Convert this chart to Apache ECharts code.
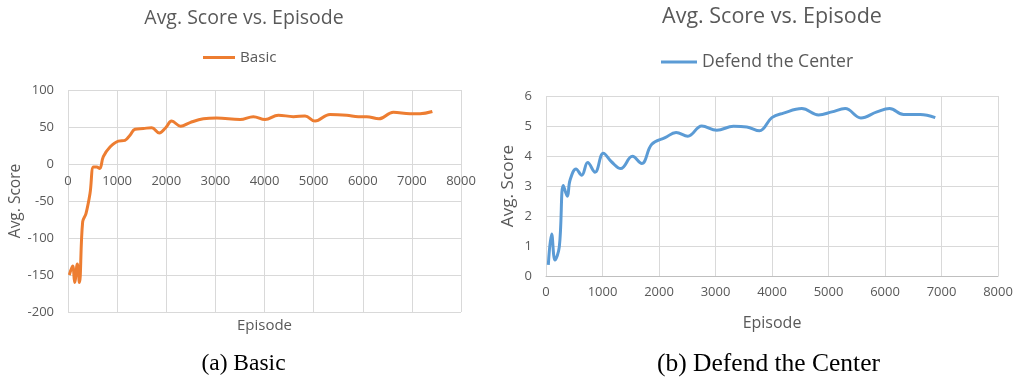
<!DOCTYPE html>
<html><head><meta charset="utf-8">
<script src="https://cdn.jsdelivr.net/npm/echarts@6/dist/echarts.min.js"></script>
<style>html,body{margin:0;padding:0;background:#fff}#c{width:1016px;height:377px}</style>
</head><body><div id="c"></div>
<script>
const basicEpisodes = [27,95,136,190,231,299,366,448,520,584,645,719,855,1025,1160,1262,1364,1534,1703,1859,1988,2110,2294,2484,2755,3026,3502,3773,4011,4282,4587,4825,5028,5334,5673,5911,6080,6331,6623,6962,7166,7417];
const basicScores = [-150,-138,-160,-135,-160,-78,-67,-40,-4,-4,-6,10,23,31,32,39,47,48,49,42,49,58,51,56,61,62,60,64,60,66,64,65,58,67,66,64,64,61,70,68,68,71];
const defendEpisodes = [41,100,159,236,307,378,425,531,632,738,868,1015,1163,1323,1529,1694,1872,2108,2303,2509,2757,3023,3318,3554,3779,3997,4204,4528,4824,5060,5296,5573,5857,6081,6329,6624,6890];
const defendScores = [0.37,1.40,0.53,0.98,3.02,2.66,3.19,3.57,3.36,3.78,3.46,4.09,3.80,3.58,3.99,3.75,4.39,4.61,4.78,4.66,5.00,4.86,4.99,4.97,4.84,5.28,5.43,5.58,5.37,5.47,5.58,5.27,5.47,5.58,5.38,5.38,5.28];
const xTicks = {min:0, max:8000, interval:1000};
const basicY = {min:-200, max:100, interval:50};
const defendY = {min:0, max:6, interval:1};

const FONT = 'Open Sans';
const TXT = '#595959';
const GRID = '#d9d9d9';
const AXIS = '#bfbfbf';
const chart = echarts.init(document.getElementById('c'));
function pair(a,b){return a.map((v,i)=>[v,b[i]]);}
const fmt = v => String(v);
const axLabel = () => ({color:TXT, fontFamily:FONT, fontSize:13, formatter:fmt});
chart.setOption({
  animation:false,
  title:[
    {text:'Avg. Score vs. Episode', left:239, top:3, textAlign:'center', textStyle:{color:TXT, fontFamily:FONT, fontSize:19.5, fontWeight:'normal'}},
    {text:'Avg. Score vs. Episode', left:767, top:1, textAlign:'center', textStyle:{color:TXT, fontFamily:FONT, fontSize:21.5, fontWeight:'normal'}}
  ],
  legend:[
    {data:['Basic'], left:198, top:45, icon:'rect', itemWidth:32, itemHeight:3, itemGap:4, textStyle:{color:TXT, fontFamily:FONT, fontSize:15.2}},
    {data:['Defend the Center'], left:656, top:48, icon:'rect', itemWidth:36, itemHeight:3, itemGap:3, textStyle:{color:TXT, fontFamily:FONT, fontSize:17.6}}
  ],
  grid:[
    {left:68, right:555, top:90, bottom:65},
    {left:546, right:18, top:96, bottom:101},
    {left:68, right:555, top:90, bottom:213}
  ],
  xAxis:[
    {gridIndex:0, type:'value', min:xTicks.min, max:xTicks.max, interval:xTicks.interval,
     name:'Episode', nameLocation:'middle', nameGap:6, nameTextStyle:{color:TXT, fontFamily:FONT, fontSize:15, verticalAlign:'top'},
     axisLine:{show:false, onZero:false}, axisTick:{show:false},
     axisLabel:{show:false}, splitLine:{show:true, lineStyle:{color:GRID}}},
    {gridIndex:1, type:'value', min:xTicks.min, max:xTicks.max, interval:xTicks.interval,
     name:'Episode', nameLocation:'middle', nameGap:39, nameTextStyle:{color:TXT, fontFamily:FONT, fontSize:16},
     axisLine:{show:true, lineStyle:{color:AXIS}}, axisTick:{show:false},
     axisLabel:Object.assign({margin:10}, axLabel()), splitLine:{show:true, lineStyle:{color:GRID}}},
    {gridIndex:2, type:'value', min:xTicks.min, max:xTicks.max, interval:xTicks.interval,
     axisLine:{show:false, onZero:false}, axisTick:{show:false},
     axisLabel:Object.assign({margin:11}, axLabel()), splitLine:{show:false}}
  ],
  yAxis:[
    {gridIndex:0, type:'value', min:basicY.min, max:basicY.max, interval:basicY.interval,
     name:'Avg. Score', nameLocation:'middle', nameGap:42, nameTextStyle:{color:TXT, fontFamily:FONT, fontSize:15.5},
     axisLine:{show:false}, axisTick:{show:false}, axisLabel:Object.assign({margin:14}, axLabel()), splitLine:{lineStyle:{color:GRID}}},
    {gridIndex:1, type:'value', min:defendY.min, max:defendY.max, interval:defendY.interval,
     name:'Avg. Score', nameLocation:'middle', nameGap:29, nameTextStyle:{color:TXT, fontFamily:FONT, fontSize:17.2},
     axisLine:{show:false}, axisTick:{show:false}, axisLabel:Object.assign({margin:14}, axLabel()), splitLine:{lineStyle:{color:GRID}}},
    {gridIndex:2, type:'value', min:0, max:100, show:false}
  ],
  series:[
    {name:'Basic', type:'line', xAxisIndex:0, yAxisIndex:0, data:pair(basicEpisodes, basicScores), smooth:0.4, showSymbol:false,
     lineStyle:{color:'#ED7D31', width:3}, itemStyle:{color:'#ED7D31'}, z:3},
    {name:'Defend the Center', type:'line', xAxisIndex:1, yAxisIndex:1, data:pair(defendEpisodes, defendScores), smooth:0.4, showSymbol:false,
     lineStyle:{color:'#5B9BD5', width:3}, itemStyle:{color:'#5B9BD5'}}
  ],
  graphic:[
    {type:'text', x:243.5, y:364, style:{text:'(a) Basic', align:'center', verticalAlign:'middle', fill:'#000', font:'23.5px "Liberation Serif"'}},
    {type:'text', x:768.5, y:364, style:{text:'(b) Defend the Center', align:'center', verticalAlign:'middle', fill:'#000', font:'25.5px "Liberation Serif"'}}
  ]
});
</script></body></html>
